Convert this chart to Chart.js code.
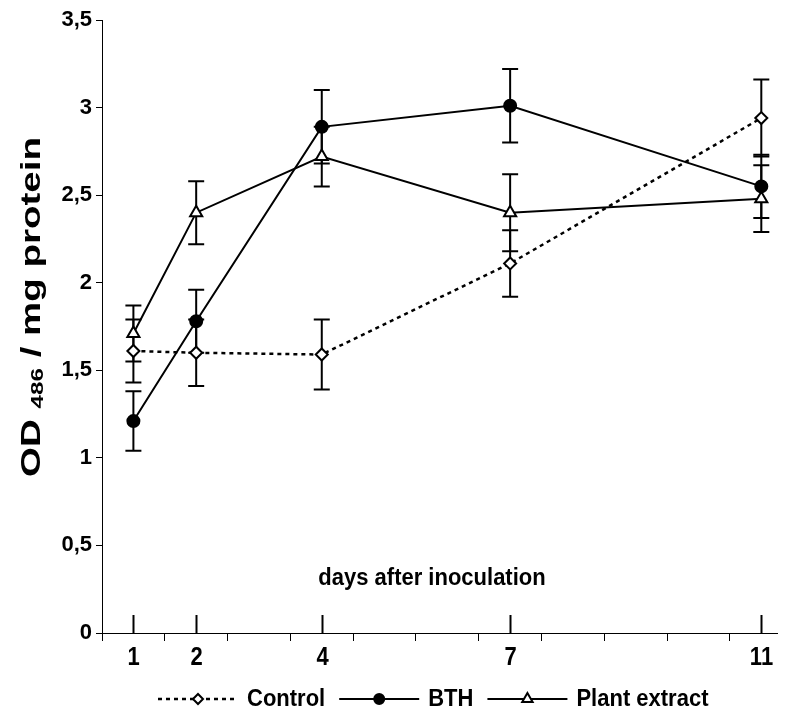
<!DOCTYPE html>
<html>
<head>
<meta charset="utf-8">
<title>OD486 / mg protein</title>
<script src="https://cdn.jsdelivr.net/npm/chart.js@4.4.0/dist/chart.umd.min.js"></script>
<style>
    html, body { margin: 0; padding: 0; background: #fff; }
    #wrap { width: 786px; height: 713px; position: relative; }
</style>
</head>
<body>
<div id="wrap"><canvas id="od_plot"></canvas></div>
<script>
'use strict';

// sampling days and their axis labels
var days = [1, 2, 4, 7, 11];
var dayLabels = ['1', '2', '4', '7', '11'];
// minor tick marks on the day axis
var minorTicks = [0.5, 1.5, 2.5, 3.5, 4.5, 5.5, 6.5, 7.5, 8.5, 9.5, 10.5];

// OD486 per mg protein, mean and error
var controlMean = [1.61, 1.60, 1.59, 2.11, 2.94];
var controlErr = [0.18, 0.19, 0.20, 0.19, 0.22];
var bthMean = [1.21, 1.78, 2.89, 3.01, 2.55];
var bthErr = [0.17, 0.18, 0.21, 0.21, 0.18];
var plantMean = [1.71, 2.40, 2.72, 2.40, 2.48];
var plantErr = [0.16, 0.18, 0.17, 0.22, 0.19];

var seriesNames = ['Control', 'BTH', 'Plant extract'];

var FONT = 'Arial, "Liberation Sans", Helvetica, sans-serif';

function toPoints(mean) {
    return days.map(function (d, i) {
        return { x: d, y: mean[i] };
    });
}

// text a bit taller than wide, like the stretched Excel export
function tallText(ctx, text, x, y, sy) {
    ctx.save();
    ctx.translate(x, y);
    ctx.scale(1, sy);
    ctx.fillText(text, 0, 0);
    ctx.restore();
}

/**
 * Vertical error bars with caps, drawn under the markers
 */
var errorBarPlugin = {
    id: 'errorBars',
    beforeDatasetsDraw: function (chart) {
        var ctx = chart.ctx;
        var xs = chart.scales.x;
        var ys = chart.scales.y;
        ctx.save();
        ctx.strokeStyle = '#000';
        ctx.lineWidth = 2;
        chart.data.datasets.forEach(function (ds) {
            ds.errors.forEach(function (e, i) {
                var p = ds.data[i];
                var px = xs.getPixelForValue(p.x);
                var top = ys.getPixelForValue(p.y + e);
                var bot = ys.getPixelForValue(p.y - e);
                ctx.beginPath();
                ctx.moveTo(px, top);
                ctx.lineTo(px, bot);
                ctx.moveTo(px - 8, top);
                ctx.lineTo(px + 8, top);
                ctx.moveTo(px - 8, bot);
                ctx.lineTo(px + 8, bot);
                ctx.stroke();
            });
        });
        ctx.restore();
    }
};

/**
 * Day labels, upward day marks, axis titles and the line legend
 */
var decorPlugin = {
    id: 'decor',
    afterDraw: function (chart) {
        var ctx = chart.ctx;
        var xs = chart.scales.x;
        var area = chart.chartArea;
        ctx.save();
        ctx.fillStyle = '#000';
        ctx.strokeStyle = '#000';

        // day marks and labels
        ctx.lineWidth = 2;
        ctx.font = 'bold 22px ' + FONT;
        ctx.textAlign = 'center';
        ctx.textBaseline = 'middle';
        days.forEach(function (d, i) {
            var px = Math.round(xs.getPixelForValue(d)) + 0.5;
            ctx.beginPath();
            ctx.moveTo(px, area.bottom);
            ctx.lineTo(px, area.bottom - 18);
            ctx.stroke();
            tallText(ctx, dayLabels[i], px, area.bottom + 25, 1.15);
        });

        // x title inside the plot
        ctx.font = 'bold 22px ' + FONT;
        tallText(ctx, 'days after inoculation', 432, area.bottom - 55, 1.1);

        // y title with subscript, stretched along its length
        ctx.save();
        ctx.translate(33, 307);
        ctx.rotate(-Math.PI / 2);
        ctx.textAlign = 'left';
        ctx.textBaseline = 'middle';
        var big = 'bold 27px ' + FONT;
        var small = 'bold 17px ' + FONT;
        var parts = [['OD ', big, 0], ['486', small, 5], [' / mg protein', big, 0]];
        var total = 0;
        parts.forEach(function (p) {
            ctx.font = p[1];
            total += ctx.measureText(p[0]).width;
        });
        ctx.scale(340 / total, 1);
        var cx = -total / 2;
        parts.forEach(function (p) {
            ctx.font = p[1];
            ctx.fillText(p[0], cx, p[2]);
            cx += ctx.measureText(p[0]).width;
        });
        ctx.restore();

        // legend
        var ly = 699;
        var lx = 158;
        ctx.font = 'bold 22px ' + FONT;
        ctx.textAlign = 'left';
        chart.data.datasets.forEach(function (ds) {
            ctx.save();
            ctx.lineWidth = ds.borderWidth;
            ctx.setLineDash(ds.borderDash || []);
            ctx.beginPath();
            ctx.moveTo(lx, ly);
            ctx.lineTo(lx + 80, ly);
            ctx.stroke();
            ctx.restore();
            ctx.save();
            ctx.fillStyle = ds.pointBackgroundColor;
            ctx.strokeStyle = '#000';
            Chart.helpers.drawPoint(ctx, {
                pointStyle: ds.pointStyle,
                radius: ds.pointRadius - 1,
                borderWidth: 2,
                rotation: 0
            }, lx + 40, ly);
            ctx.restore();
            tallText(ctx, ds.label, lx + 89, ly, 1.12);
            lx += 89 + ctx.measureText(ds.label).width + 14;
        });
        ctx.restore();
    }
};

function makeSeries(name, mean, err, style, fill, radius, dash, width) {
    return {
        label: name,
        data: toPoints(mean),
        errors: err,
        borderColor: '#000',
        borderWidth: width,
        borderDash: dash,
        pointStyle: style,
        pointRadius: radius,
        pointHoverRadius: radius,
        pointBackgroundColor: fill,
        pointBorderColor: '#000',
        pointBorderWidth: 2,
        tension: 0,
        fill: false
    };
}

var ctx = document.getElementById('od_plot').getContext('2d');
new Chart(ctx, {
    type: 'line',
    data: {
        datasets: [
            makeSeries(seriesNames[0], controlMean, controlErr, 'rectRot', '#fff', 6, [4, 4], 2.5),
            makeSeries(seriesNames[1], bthMean, bthErr, 'circle', '#000', 6, [], 2),
            makeSeries(seriesNames[2], plantMean, plantErr, 'triangle', '#fff', 7, [], 2)
        ]
    },
    options: {
        responsive: true,
        maintainAspectRatio: false,
        animation: false,
        devicePixelRatio: 1,
        layout: {
            padding: { top: 20, left: 0, right: 0, bottom: 0 }
        },
        plugins: {
            legend: { display: false },
            tooltip: { enabled: false }
        },
        scales: {
            x: {
                type: 'linear',
                min: 0.5,
                max: 11.25,
                afterBuildTicks: function (scale) {
                    scale.ticks = minorTicks.map(function (v) { return { value: v }; });
                },
                afterFit: function (scale) {
                    scale.height = 80;
                },
                ticks: { display: false },
                grid: {
                    drawOnChartArea: false,
                    drawTicks: true,
                    tickLength: 8,
                    color: '#000',
                    lineWidth: 1
                },
                border: { color: '#000', width: 1 }
            },
            y: {
                min: 0,
                max: 3.5,
                afterFit: function (scale) {
                    scale.width = 102;
                },
                ticks: {
                    stepSize: 0.5,
                    color: '#000',
                    padding: 4,
                    font: { family: FONT, size: 22, weight: 'bold' },
                    callback: function (v) {
                        return String(v).replace('.', ',');
                    }
                },
                grid: {
                    drawOnChartArea: false,
                    drawTicks: true,
                    tickLength: 6,
                    color: '#000',
                    lineWidth: 1
                },
                border: { color: '#000', width: 1 }
            }
        }
    },
    plugins: [errorBarPlugin, decorPlugin]
});
</script>
</body>
</html>
